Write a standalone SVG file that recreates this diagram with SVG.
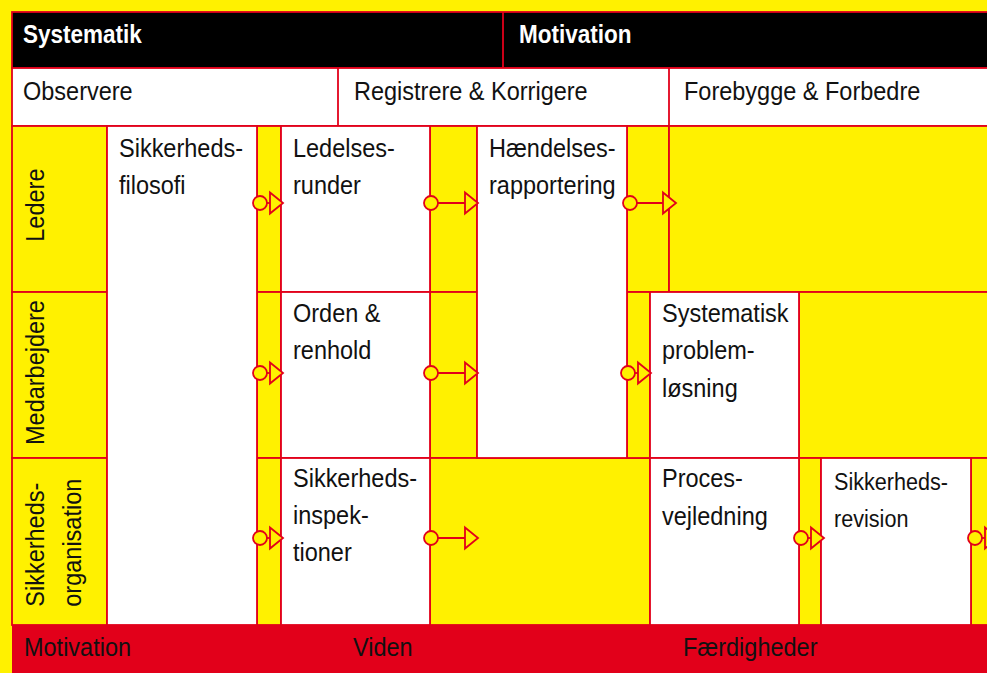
<svg xmlns="http://www.w3.org/2000/svg" width="987" height="673" viewBox="0 0 987 673">
  <style>
    .bg { fill: #FFF100; }
    .cell { fill: #FFF100; stroke: #E2001A; stroke-width: 1.8; }
    .box { fill: #FFFFFF; stroke: #E2001A; stroke-width: 1.8; }
    .bar { fill: #000000; stroke: #E2001A; stroke-width: 1.8; }
    .band { fill: #E2001A; }
    .rule { stroke: #E2001A; stroke-width: 1.8; fill: none; }
    .t { font-family: "Liberation Sans", Arial, sans-serif; font-size: 25px; fill: #111111;
         transform-box: fill-box; transform-origin: 0 0; transform: scaleX(0.94); }
    .h { font-family: "Liberation Sans", Arial, sans-serif; font-size: 25px; font-weight: bold; fill: #FFFFFF;
         transform-box: fill-box; transform-origin: 0 0; transform: scaleX(0.9); }
    .n { font-size: 24px; transform: scaleX(0.9); }
    .link { stroke: #E2001A; stroke-width: 1.8; fill: none; marker-start: url(#dot); marker-end: url(#tri); }
  </style>
  <defs>
    <marker id="dot" markerUnits="userSpaceOnUse" markerWidth="18" markerHeight="18" refX="9" refY="9" orient="auto" overflow="visible">
      <circle cx="9" cy="9" r="7" fill="#FFF100" stroke="#E2001A" stroke-width="1.8"/>
    </marker>
    <marker id="tri" markerUnits="userSpaceOnUse" markerWidth="18" markerHeight="26" refX="14" refY="13" orient="auto" overflow="visible">
      <path d="M1,2.5 L14,13 L1,23.5 Z" fill="#FFF100" stroke="#E2001A" stroke-width="1.8" stroke-linejoin="miter"/>
    </marker>
  </defs>

  <!-- page ground -->
  <rect class="bg" x="0" y="0" width="987" height="673"/>

  <!-- top bar: Systematik / Motivation -->
  <g id="header">
    <rect class="bar" x="12" y="12" width="990" height="56"/>
    <line class="rule" x1="503" y1="12" x2="503" y2="68"/>
    <text class="h" x="23" y="43">Systematik</text>
    <text class="h" x="519" y="43">Motivation</text>
  </g>

  <!-- phase row -->
  <g id="phases">
    <rect class="box" x="12" y="68" width="990" height="58"/>
    <line class="rule" x1="338" y1="68" x2="338" y2="126"/>
    <line class="rule" x1="669" y1="68" x2="669" y2="126"/>
    <text class="t" x="23" y="100">Observere</text>
    <text class="t" x="354" y="100">Registrere &amp; Korrigere</text>
    <text class="t" x="684" y="100">Forebygge &amp; Forbedre</text>
  </g>

  <!-- yellow grid cells between the activities -->
  <g id="grid">
    <rect class="cell" x="257" y="126" width="24" height="166"/>
    <rect class="cell" x="257" y="292" width="24" height="166"/>
    <rect class="cell" x="257" y="458" width="24" height="167"/>
    <rect class="cell" x="430" y="126" width="47" height="166"/>
    <rect class="cell" x="430" y="292" width="47" height="166"/>
    <rect class="cell" x="430" y="458" width="220" height="167"/>
    <rect class="cell" x="627" y="126" width="42" height="166"/>
    <rect class="cell" x="669" y="126" width="333" height="166"/>
    <rect class="cell" x="627" y="292" width="23" height="166"/>
    <rect class="cell" x="799" y="292" width="203" height="166"/>
    <rect class="cell" x="799" y="458" width="22" height="167"/>
    <rect class="cell" x="971" y="458" width="31" height="167"/>
  </g>

  <!-- row labels -->
  <g id="row-ledere">
    <rect class="cell" x="12" y="126" width="95" height="166"/>
    <g transform="translate(44.3,241.7) rotate(-90)"><text class="t" x="0" y="0">Ledere</text></g>
  </g>
  <g id="row-medarbejdere">
    <rect class="cell" x="12" y="292" width="95" height="166"/>
    <g transform="translate(44.3,445) rotate(-90)"><text class="t" x="0" y="0">Medarbejdere</text></g>
  </g>
  <g id="row-sikkerhedsorganisation">
    <rect class="cell" x="12" y="458" width="95" height="167"/>
    <g transform="translate(44.3,606.7) rotate(-90)"><text class="t" x="0" y="0">Sikkerheds-<tspan x="0" dy="37">organisation</tspan></text></g>
  </g>

  <!-- activities -->
  <g id="sikkerhedsfilosofi">
    <rect class="box" x="107" y="126" width="150" height="499"/>
    <text class="t" x="119" y="156.7">Sikkerheds-<tspan x="119" dy="37.3">filosofi</tspan></text>
  </g>
  <g id="ledelsesrunder">
    <rect class="box" x="281" y="126" width="149" height="166"/>
    <text class="t" x="293" y="156.7">Ledelses-<tspan x="293" dy="37.3">runder</tspan></text>
  </g>
  <g id="haendelsesrapportering">
    <rect class="box" x="477" y="126" width="150" height="332"/>
    <text class="t" x="489" y="156.7">Hændelses-<tspan x="489" dy="37.3">rapportering</tspan></text>
  </g>
  <g id="orden-renhold">
    <rect class="box" x="281" y="292" width="149" height="166"/>
    <text class="t" x="293" y="321.7">Orden &amp;<tspan x="293" dy="37">renhold</tspan></text>
  </g>
  <g id="systematisk-problemloesning">
    <rect class="box" x="650" y="292" width="149" height="166"/>
    <text class="t" x="662" y="322">Systematisk<tspan x="662" dy="37.5">problem-</tspan><tspan x="662" dy="37.5">løsning</tspan></text>
  </g>
  <g id="sikkerhedsinspektioner">
    <rect class="box" x="281" y="458" width="149" height="167"/>
    <text class="t" x="293" y="487.5">Sikkerheds-<tspan x="293" dy="37">inspek-</tspan><tspan x="293" dy="37">tioner</tspan></text>
  </g>
  <g id="procesvejledning">
    <rect class="box" x="650" y="458" width="149" height="167"/>
    <text class="t" x="662" y="487.5">Proces-<tspan x="662" dy="37.5">vejledning</tspan></text>
  </g>
  <g id="sikkerhedsrevision">
    <rect class="box" x="821" y="458" width="150" height="167"/>
    <text class="t n" x="834" y="490">Sikkerheds-<tspan x="834" dy="36.7">revision</tspan></text>
  </g>

  <!-- flow connectors: open circle at the source, open triangle at the target -->
  <g id="connectors">
    <path class="link" d="M260,203 H283"/>
    <path class="link" d="M431,203 H478"/>
    <path class="link" d="M630,203 H676"/>
    <path class="link" d="M260,373 H283"/>
    <path class="link" d="M431,373 H478"/>
    <path class="link" d="M628,373 H651"/>
    <path class="link" d="M260,538 H283"/>
    <path class="link" d="M431,538 H478"/>
    <path class="link" d="M801,538 H824"/>
    <path class="link" d="M975,538 H998"/>
  </g>

  <!-- bottom band -->
  <g id="footer">
    <rect class="band" x="12" y="625" width="990" height="48"/>
    <text class="t" x="24" y="656">Motivation</text>
    <text class="t" x="353" y="656">Viden</text>
    <text class="t" x="683" y="656">Færdigheder</text>
  </g>
</svg>
